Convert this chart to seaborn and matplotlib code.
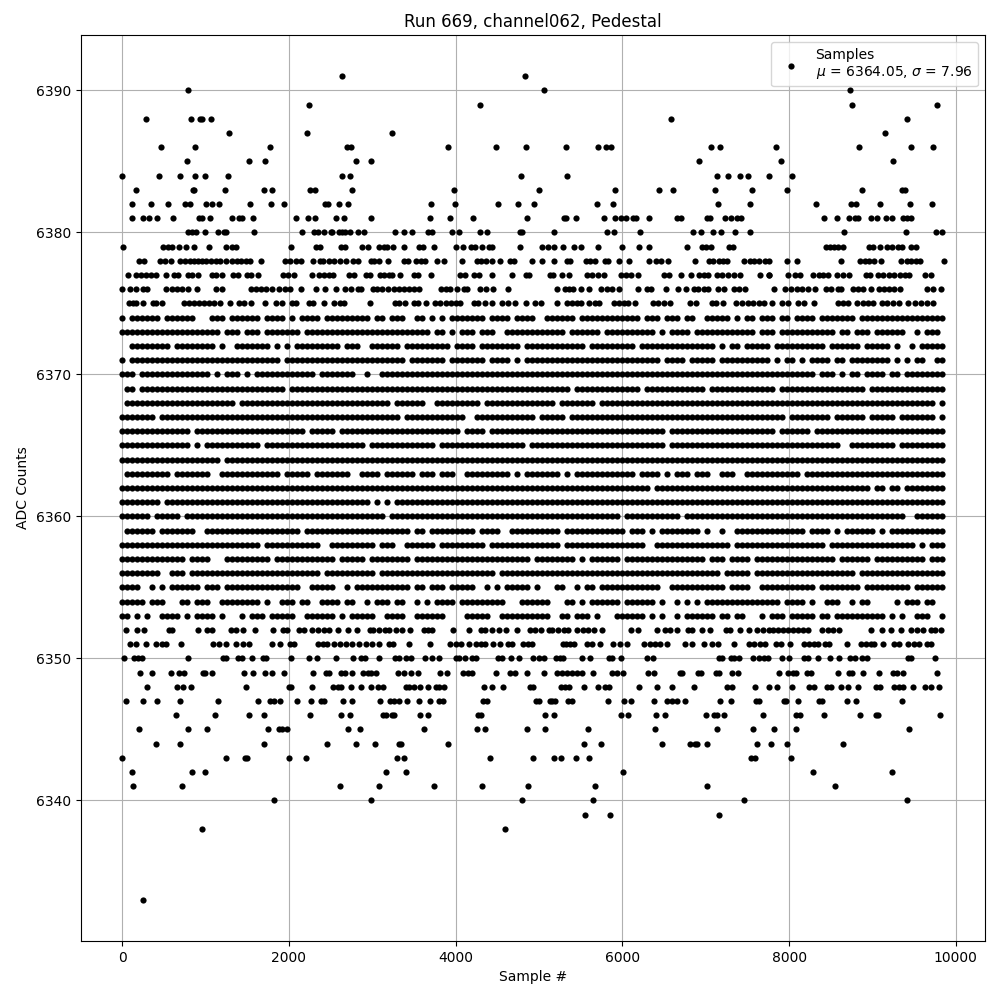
import matplotlib
matplotlib.use("Agg")
import matplotlib.pyplot as plt
import pandas as pd
import seaborn as sns

TITLE = "Run 669, channel062, Pedestal"
XLABEL = "Sample #"
YLABEL = "ADC Counts"
LEGEND = "Samples\n$\\mu$ = 6364.05, $\\sigma$ = 7.96"

# Sparse levels: sample numbers
s6391 = [2640, 4832]
s6390 = [788, 5060, 8729]
s6389 = [2240, 4292, 8753, 9773]
s6388 = [284, 824, 932, 964, 1064, 6584, 9413]
s6387 = [1280, 2216, 3236, 9149]
s6386 = [464, 872, 1772, 2696, 2744, 3908, 4484, 4844, 5324, 5708, 5804, 5864, 7064, 7172, 7841, 8837, 9461, 9725]
s6385 = [776, 1520, 1712, 2804, 2984, 6920, 7901, 9245]
s6384 = [0, 440, 692, 872, 992, 1268, 2636, 2732, 4784, 5336, 7136, 7268, 7412, 7508, 7760, 8033]
s6383 = [164, 848, 868, 1232, 1700, 1796, 2252, 2312, 2756, 3980, 5000, 5912, 6440, 6608, 7112, 7556, 7973, 8873, 9353, 9389]
s6382 = [116, 344, 548, 752, 812, 1004, 1076, 1160, 1532, 1784, 1940, 2432, 2468, 2600, 2708, 3704, 3992, 4508, 4748, 4940, 5696, 5888, 7148, 7532, 8321, 8741, 8801, 9089, 9449, 9713]
s6381 = [116, 248, 320, 416, 608, 920, 956, 1052, 1316, 1400, 1436, 1568, 2084, 2228, 2312, 2564, 2660, 2984, 3692, 3932, 4208, 4856, 5300, 5324, 5444, 5780, 5912, 5984, 6044, 6128, 6164, 6320, 6656, 6704, 7016, 7052, 7232, 7304, 7376, 7424, 8417, 8573, 8717, 8789, 8825, 8981, 9053, 9161, 9233, 9365, 9413, 9461]
s6380 = [788, 836, 884, 992, 1148, 1220, 1244, 1580, 2156, 2300, 2348, 2420, 2500, 2516, 2600, 2640, 2672, 2732, 2828, 2900, 3272, 3380, 3476, 3668, 3716, 3956, 4040, 4292, 4376, 4772, 4796, 5180, 5816, 5900, 6212, 6848, 6944, 7088, 7184, 7352, 7532, 8657, 9401, 9761, 9833]
s6379 = [8, 488, 548, 596, 680, 764, 860, 1040, 1244, 1316, 1364, 2024, 2324, 2372, 2624, 2672, 2876, 2948, 3080, 3140, 3176, 3248, 3380, 3560, 3608, 3740, 4004, 4088, 4184, 4232, 4316, 4400, 4436, 4772, 5036, 5108, 5180, 5288, 5420, 5504, 5708, 5996, 6200, 6320, 6776, 6956, 7004, 7064, 7280, 7328, 8441, 8489, 8537, 8585, 8645, 8957, 9005, 9089, 9173, 9233, 9305, 9353, 9461, 9521]
s6378 = [200, 260, 452, 512, 584, 692, 752, 812, 860, 908, 956, 1004, 1064, 1124, 1172, 1244, 1316, 1376, 1424, 1484, 1532, 1672, 1952, 2012, 2084, 2144, 2288, 2372, 2408, 2480, 2540, 2612, 2684, 2768, 2828, 2984, 3020, 3080, 3188, 3380, 3428, 3524, 3584, 3632, 3776, 3860, 4076, 4256, 4304, 4364, 4436, 4532, 4652, 4700, 4916, 5036, 5180, 5336, 5372, 5564, 5612, 5672, 5792, 5828, 5960, 6080, 6320, 6404, 6464, 6548, 6872, 7040, 7088, 7160, 7208, 7256, 7460, 7532, 7580, 7640, 7712, 7765, 7973, 8093, 8621, 8849, 8909, 8957, 9017, 9101, 9341, 9413, 9461, 9521, 9569, 9857]
s6377 = [68, 164, 224, 284, 344, 404, 524, 620, 668, 788, 836, 908, 1076, 1124, 1196, 1328, 1388, 1496, 1544, 1628, 1928, 1988, 2060, 2276, 2360, 2420, 2480, 2528, 2720, 2780, 2924, 2972, 3092, 3140, 3200, 3236, 3332, 3500, 3548, 3704, 4052, 4112, 4220, 4280, 4436, 4676, 4844, 4880, 5132, 5168, 5276, 5360, 5576, 5636, 5708, 5780, 5984, 6044, 6104, 6188, 6500, 6560, 6704, 6824, 6920, 6980, 7028, 7136, 7196, 7268, 7340, 7412, 7652, 7760, 7765, 7985, 8069, 8129, 8285, 8357, 8405, 8465, 8573, 8645, 8717, 8921, 8969, 9065, 9125, 9197, 9257, 9329, 9389, 9437, 9629, 9701]
s6376 = [0, 92, 164, 248, 296, 524, 596, 656, 716, 788, 896, 1124, 1196, 1544, 1604, 1664, 1724, 1796, 1880, 1952, 2012, 2144, 2324, 2432, 2564, 2672, 2744, 2828, 2864, 3008, 3056, 3116, 3188, 3260, 3320, 3380, 3440, 3500, 3560, 3824, 3884, 3932, 4016, 4100, 4136, 4292, 4364, 4448, 4628, 5216, 5312, 5360, 5408, 5504, 5600, 5744, 5816, 5876, 5960, 6188, 6296, 6344, 6520, 6668, 6764, 6860, 6908, 6980, 7028, 7148, 7220, 7340, 7400, 7472, 7817, 7949, 8021, 8093, 8153, 8225, 8309, 8441, 8501, 8585, 8621, 8765, 8825, 8885, 8981, 9077, 9137, 9197, 9257, 9329, 9653, 9725, 9821]
s6375 = [84, 132, 168, 248, 372, 408, 476, 740, 800, 860, 920, 980, 1040, 1100, 1172, 1292, 1400, 1460, 1544, 1712, 1844, 1916, 2036, 2084, 2240, 2288, 2420, 2540, 2612, 2660, 2972, 3272, 3320, 3392, 3500, 3548, 3644, 3752, 3812, 3884, 3944, 4004, 4052, 4220, 4268, 4352, 4436, 4556, 4628, 4712, 4844, 4952, 5024, 5216, 5336, 5396, 5456, 5504, 5600, 5672, 5720, 5900, 5960, 6020, 6068, 6152, 6368, 6428, 6500, 6572, 6812, 6884, 7076, 7124, 7208, 7364, 7436, 7508, 7568, 7640, 7700, 7793, 7913, 7985, 8105, 8177, 8297, 8585, 8645, 8705, 8813, 8885, 8945, 9005, 9113, 9173, 9245, 9317, 9425, 9509, 9581, 9653, 9725]
s6352 = [44, 176, 260, 560, 596, 908, 1016, 1076, 1304, 1364, 1448, 1592, 1808, 1928, 1976, 2120, 2180, 2276, 2348, 2420, 2480, 2588, 2708, 2816, 2972, 3008, 3080, 3152, 3200, 3284, 3356, 3452, 3620, 3668, 3716, 3968, 4156, 4304, 4352, 4436, 4520, 4604, 4736, 4892, 4952, 5024, 5120, 5156, 5228, 5300, 5348, 5456, 5528, 5588, 5660, 5756, 6104, 6188, 6416, 6512, 6572, 6656, 6788, 6836, 6956, 7052, 7244, 7292, 7412, 7520, 7616, 7688, 7760, 7805, 7865, 7925, 7985, 8045, 8105, 8165, 8225, 8393, 8465, 8525, 8597, 8981, 9113, 9221, 9341, 9461, 9533, 9605, 9701, 9749, 9821]
s6351 = [92, 164, 284, 404, 476, 524, 704, 1088, 1160, 1244, 1364, 1448, 1520, 1796, 1892, 2012, 2060, 2348, 2408, 2460, 2540, 2612, 2684, 2756, 2840, 2924, 2996, 3080, 3200, 3248, 3436, 3692, 3932, 4004, 4064, 4160, 4244, 4304, 4352, 4448, 4532, 4628, 4676, 4808, 4868, 4916, 5288, 5324, 5372, 5420, 5576, 5636, 5732, 5888, 5972, 6056, 6260, 6332, 6392, 6452, 6536, 6752, 6836, 6980, 7076, 7148, 7340, 7520, 7580, 7652, 7712, 7841, 7901, 8009, 8177, 8237, 8297, 8345, 8429, 8477, 8693, 8861, 8921, 8981, 9017, 9125, 9257, 9317, 9425, 9497, 9557, 9653, 9701]
s6350 = [24, 140, 188, 236, 788, 1208, 1244, 1388, 1436, 1556, 1688, 1724, 2024, 2240, 2336, 2564, 2768, 2864, 2912, 3080, 3272, 3320, 3404, 3464, 3632, 3716, 3800, 4004, 4040, 4112, 4196, 4244, 4508, 4556, 4664, 4760, 4928, 5000, 5060, 5204, 5252, 5288, 5516, 5612, 5840, 5876, 5984, 6296, 6368, 7160, 7196, 7304, 7340, 7400, 7568, 7640, 7700, 7748, 7913, 7997, 8177, 8225, 8345, 8489, 8597, 8729, 8789, 8873, 8933, 9425, 9461, 9749]
s6349 = [212, 356, 584, 680, 740, 968, 992, 1084, 1460, 1568, 1712, 1796, 1940, 2288, 2444, 2480, 2624, 2672, 2756, 2888, 2948, 2984, 3044, 3308, 3380, 3464, 3548, 3812, 3896, 4088, 4148, 4196, 4484, 4652, 4712, 4856, 5060, 5216, 5276, 5336, 5396, 5456, 5516, 5648, 5876, 5936, 6008, 6308, 6380, 6692, 6716, 6908, 6944, 7124, 7160, 7316, 7388, 7877, 7985, 8045, 8081, 8213, 8261, 8585, 8717, 8753, 8885, 9077, 9245, 9293, 9365, 9773]
s6348 = [296, 656, 728, 824, 1484, 2000, 2024, 2276, 2528, 2588, 2624, 2744, 2864, 2984, 3068, 3128, 3404, 3440, 3500, 3572, 3668, 3764, 3800, 3860, 4340, 4436, 4568, 4892, 4928, 5264, 5312, 5360, 5540, 5708, 5792, 5840, 6200, 6416, 6596, 6860, 7256, 7316, 7592, 7760, 7853, 8033, 8237, 8297, 8453, 8501, 8621, 8705, 8825, 9041, 9089, 9257, 9317, 9365, 9485, 9629, 9701, 9797]
s6347 = [44, 248, 416, 692, 1148, 1628, 1772, 1820, 1892, 2096, 2264, 2384, 2420, 2648, 2756, 3092, 3212, 3260, 3320, 3416, 3560, 3692, 3800, 3848, 4328, 4376, 4964, 5000, 5132, 5156, 5192, 5348, 5396, 5828, 6020, 6104, 6380, 6536, 6596, 6656, 6752, 7172, 7304, 7604, 7640, 7937, 7961, 8105, 8357, 8393, 8693, 8801, 9353]
s6346 = [644, 1112, 1520, 1700, 2252, 2624, 2732, 3128, 3164, 3236, 3260, 3572, 3668, 4268, 4304, 5072, 5180, 5984, 6068, 6404, 6512, 7004, 7100, 7136, 7220, 7688, 8081, 8129, 8417, 8849, 9041, 9065, 9809]
s6345 = [200, 788, 1016, 1748, 1880, 1916, 1976, 2708, 2852, 3620, 4256, 4352, 4856, 5072, 5588, 6392, 7136, 7568, 7817, 8081, 9437]
s6344 = [404, 692, 1700, 2456, 2804, 3032, 3320, 3344, 3908, 5540, 5744, 6476, 6812, 6872, 6896, 7016, 7616, 7781, 7973, 8645]
s6343 = [0, 1244, 1472, 1496, 2000, 2204, 3296, 3380, 4412, 4928, 5180, 5264, 5444, 5600, 7544, 7592, 8021]
s6342 = [116, 836, 992, 3164, 3404, 6008, 8285, 9233]
s6341 = [128, 716, 2612, 3080, 3740, 4316, 4868, 5672, 7016, 8549]
s6340 = [1820, 2984, 4796, 5648, 7460, 9413]
s6339 = [5552, 5852, 7160]
s6338 = [956, 4592]
s6333 = [248]
sparse_levels = [6391, 6390, 6389, 6388, 6387, 6386, 6385, 6384, 6383, 6382, 6381, 6380, 6379, 6378, 6377, 6376, 6375,
                 6352, 6351, 6350, 6349, 6348, 6347, 6346, 6345, 6344, 6343, 6342, 6341, 6340, 6339, 6338, 6333]
sparse_samples = [s6391, s6390, s6389, s6388, s6387, s6386, s6385, s6384, s6383, s6382, s6381, s6380, s6379, s6378, s6377, s6376, s6375,
                  s6352, s6351, s6350, s6349, s6348, s6347, s6346, s6345, s6344, s6343, s6342, s6341, s6340, s6339, s6338, s6333]

# Dense levels: occupied and empty stretches, counted in
# cells of 60 samples, alternating occupied, empty, occupied, ...
starts4 = [0, 2520, 5160, 7800]
starts3 = [0, 3480, 6960]
d6374 = [[1,1,6,1,6,3,3,1,6,1,4,1,1,1,4,1,1], [8,1,2,1,3,2,2,1,1,1,1,1,7,1,4,1,4,2,1], [5,1,12,1,3,1,3,1,2,2,5,1,1,1,2,1,2], [1,1,2,1,4,1,7,1,17]]
d6373 = [[20,1,3,1,3,1,7,1,5], [20,1,2,1,1,1,3,1,3,2,9], [3,1,6,1,10,1,1,1,4,1,12,1,2], [1,1,11,1,2,1,3,1,6,2,1,1,3,1]]
d6372 = [[0,2,8,1,8,1,1,2,7,1,1,1,1,1,7], [2,1,3,2,6,1,9,1,4,1,8,1,5], [7,1,9,1,15,1,1,1,2,1,5], [0,1,10,1,6,1,5,1,1,2,1,1,5]]
d6371 = [[1,1,30,1,9], [15,1,7,1,7,1,4,1,1,1,5], [22,1,4,1,5,1,10], [0,1,1,1,2,1,1,1,4,1,2,1,8,1,1,1,1,1,2,2,2]]
d6370 = [[3,1,14,1,1,1,3,1,1,1,12,1,7,2,1,2,6], [58], [23,1,3,1,1,1,2,1,4,1,2,1,8]]
d6369 = [[0,1,2,1,29,1,24], [32,1,13,1,11], [1,1,13,1,17,1,15]]
d6368 = [[0,1,22,1,30,1,3], [3,2,9,1,14,1,7,1,20], [47,1,1]]
d6367 = [[7,1,48,1,1], [11,2,12,1,5,1,26], [17,1,8,1,6,1,5,1,7,1,1]]
d6366 = [[14,1,22,1,5,1,14], [10,1,4,1,35,1,6], [15,1,6,1,26]]
d6365 = [[14,1,1,1,11,1,20,1,8], [5,1,17,1,27,1,6], [28,2,9,1,9]]
d6364 = [[20,1,37], [58], [49]]
d6363 = [[0,1,9,1,7,2,12,1,5,1,7,2,4,1,5], [1,1,3,1,3,2,9,1,1,1,7,1,1,1,12,1,4,1,1,1,3,1,1], [2,2,3,2,11,1,28]]
d6362 = [[58], [48,1,9], [34,1,2,1,2,1,8]]
d6361 = [[8,1,41,1,1,1,1,1,3], [58], [49]]
d6360 = [[6,1,5,1,40,1,4], [42,1,11,1,3], [41,2,6]]
d6359 = [[0,1,6,1,7,2,19,1,21], [0,1,2,1,9,1,4,2,10,1,12,1,3,1,1,1,8], [0,1,1,2,1,2,14,1,4,1,1,1,6,1,1,1,11]]
d6358 = [[28,1,11,2,9,1,3,2,1], [5,1,9,1,14,1,16,2,9], [6,1,18,1,17,1,1,1,3]]
d6357 = [[13,1,4,3,9,1,12,1,5,1,8], [0,1,23,1,8,1,1,1,6,1,15], [1,1,3,1,4,1,16,1,6,1,10,1,3]]
d6356 = [[8,2,3,1,26,1,1], [9,1,23,1,10], [34,1,5,1,3], [17,1,17]]
d6355 = [[4,2,1,1,1,1,6,1,3,1,15,2,4], [1,2,1,1,11,1,2,1,3,1,5,2,1,1,1,1,5,1,1,2], [0,1,2,2,1,1,2,1,12,2,11,1,4,2,2], [9,1,8,1,9,1,6]]
d6354 = [[5,1,3,3,2,1,3,2,8,1,1,2,3,1,2,2,2], [2,1,2,2,1,1,3,1,2,2,1,1,1,1,4,1,9,3,6], [0,3,2,1,1,1,6,1,6,1,1,2,1,1,1,1,1,1,13], [2,1,4,1,1,2,3,2,1,1,2,5,1,1,3,1,2,2]]
d6353 = [[2,1,1,1,1,2,4,1,1,1,4,1,1,3,1,1,3,1,5,2,5], [1,1,1,1,5,2,4,2,6,4,5,2,10], [0,2,2,1,3,1,1,3,6,1,1,1,1,2,1,1,6,1,2,1,2,3,1,1], [3,1,5,1,2,1,10,1,1,1,1,2,3,2,1]]

dense4 = {6374: d6374, 6373: d6373, 6372: d6372, 6371: d6371, 6356: d6356, 6355: d6355, 6354: d6354, 6353: d6353}
dense3 = {6370: d6370, 6369: d6369, 6368: d6368, 6367: d6367, 6366: d6366, 6365: d6365, 6364: d6364,
          6363: d6363, 6362: d6362, 6361: d6361, 6360: d6360, 6359: d6359, 6358: d6358, 6357: d6357}

sample_no, adc = [], []
for level, samples in zip(sparse_levels, sparse_samples):
    sample_no += samples
    adc += [level] * len(samples)
for table, starts in ((dense4, starts4), (dense3, starts3)):
    for level, parts in table.items():
        for start, runs in zip(starts, parts):
            cell = 0
            for k, length in enumerate(runs):
                if k % 2 == 0:
                    for i in range(cell, cell + length):
                        sample_no.append(start + 60 * i)
                        adc.append(level)
                cell += length

df = pd.DataFrame({"sample": sample_no, "adc": adc})

fig, ax = plt.subplots(figsize=(10, 10), dpi=100)
sns.scatterplot(data=df, x="sample", y="adc", color="black", s=20, linewidth=0,
                label=LEGEND, ax=ax, zorder=3)
ax.grid(True)
ax.set_title(TITLE)
ax.set_xlabel(XLABEL)
ax.set_ylabel(YLABEL)
ax.ticklabel_format(useOffset=False, style="plain", axis="y")
ax.legend(loc="upper right")
fig.subplots_adjust(left=0.081, right=0.985, top=0.965, bottom=0.059)
fig.savefig("out.png", dpi=100)
